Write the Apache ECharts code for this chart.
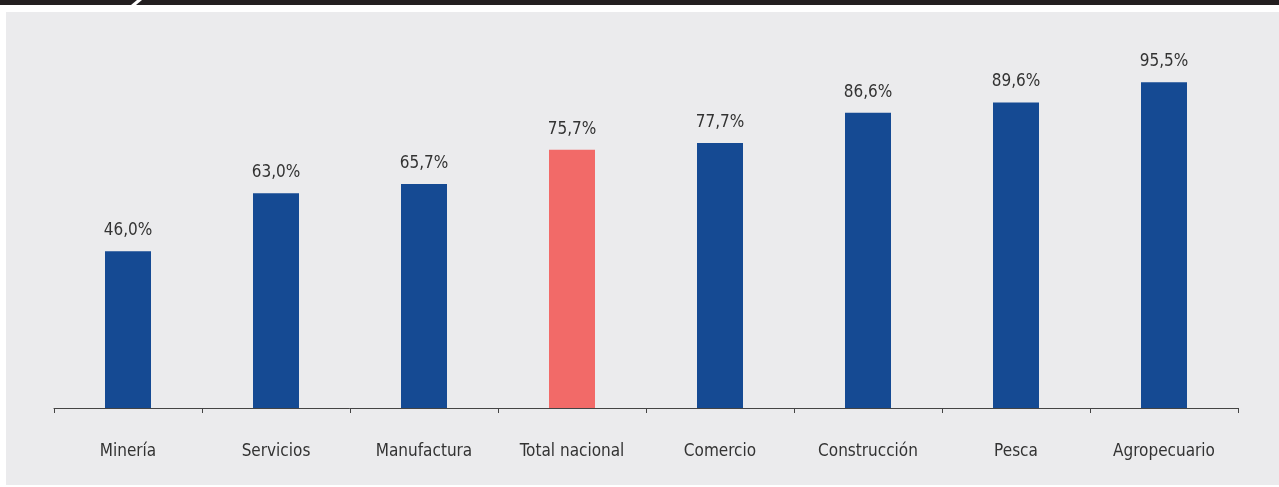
<!DOCTYPE html>
<html><head><meta charset="utf-8">
<script src="https://cdn.jsdelivr.net/npm/echarts@6/dist/echarts.min.js"></script>
<style>html,body{margin:0;padding:0;background:#fff}#c{width:1279px;height:487px}</style>
</head><body><div id="c"></div>
<script>
const categories = ['Minería','Servicios','Manufactura','Total nacional','Comercio','Construcción','Pesca','Agropecuario'];
const values = [46.0, 63.0, 65.7, 75.7, 77.7, 86.6, 89.6, 95.5];
const highlight = 'Total nacional';
const FONT = "'Liberation Sans Narrow','DejaVu Sans Condensed','Roboto',sans-serif";
const chart = echarts.init(document.getElementById('c'));
chart.setOption({
  animation:false,
  graphic:[
    {type:'rect',shape:{x:6,y:12,width:1273,height:473},style:{fill:'#ebebed'},z:-10},
    {type:'rect',shape:{x:0,y:0,width:1279,height:5},style:{fill:'#231f20'},z:-10},
    {type:'polygon',shape:{points:[[131,5],[136,5],[142,0],[137,0]]},style:{fill:'#fff'},z:-9}
  ],
  grid:{left:54,right:41,top:67,bottom:79},
  xAxis:{type:'category',data:categories,
    axisLine:{lineStyle:{color:'#444',width:1}},
    axisTick:{show:true,length:5,lineStyle:{color:'#444'}},
    axisLabel:{color:'#333',fontSize:17,fontFamily:FONT,margin:35}},
  yAxis:{type:'value',min:0,max:100,show:false,splitLine:{show:false}},
  series:[{type:'bar',barWidth:46,
    data:values.map((v,i)=>({value:v,itemStyle:{color:categories[i]===highlight?'#f26a68':'#154a93'}})),
    label:{show:true,position:'top',distance:12,color:'#333',fontSize:17,fontFamily:FONT,
      formatter:p=>p.value.toFixed(1).replace('.',',')+'%'}}]
});
</script></body></html>
